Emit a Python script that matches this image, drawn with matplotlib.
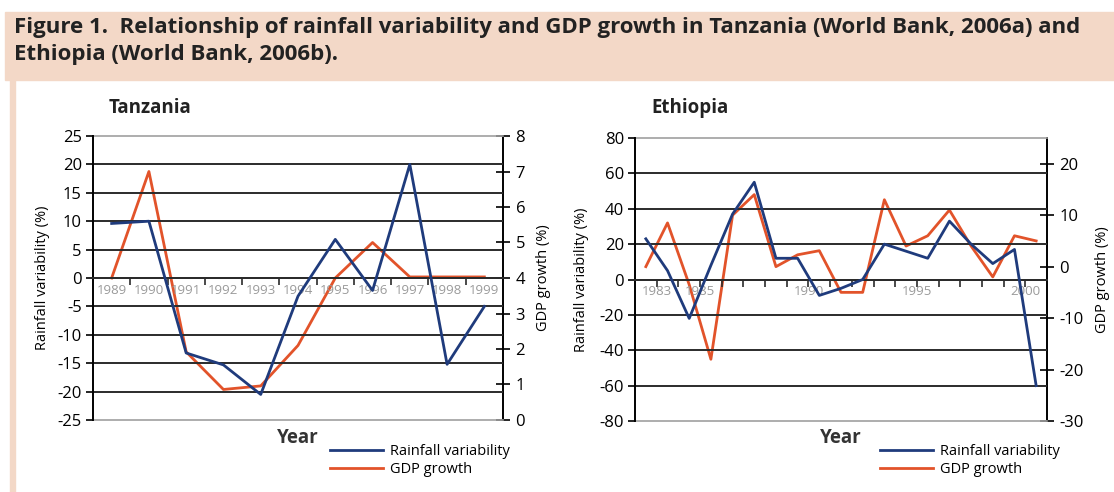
import matplotlib
matplotlib.use("Agg")
import matplotlib.pyplot as plt
from matplotlib import font_manager
from matplotlib.lines import Line2D
from matplotlib.patches import Rectangle

# Tanzania, 1989-1999
tz_years = ["1989", "1990", "1991", "1992", "1993", "1994",
            "1995", "1996", "1997", "1998", "1999"]
tz_rain = [9.6, 10.0, -13.2, -15.3, -20.5, -3.2, 6.8, -2.2, 20.0, -15.2, -5.0]
tz_gdp = [4.0, 7.0, 1.92, 0.86, 0.96, 2.1, 4.0, 5.0, 4.03, 4.03, 4.03]

# Ethiopia, 1982-2000
eth_years = list(range(1982, 2001))
eth_rain = [23, 5, -22, 8, 37, 55, 12, 12, -9, -5, 0, 20, 16, 12, 33, 20, 9, 17, -60]
eth_gdp = [0, 8.5, -3.5, -18, 10, 14, 0, 2.3, 3.1, -5, -5, 13, 4, 6, 11, 4, -2, 6, 5]
eth_shown = [1983, 1985, 1990, 1995, 2000]

BLUE = "#1f3b7c"
ORANGE = "#e2532a"
PINK = "#f3d8c7"
W, H = 1114, 492

installed = {f.name for f in font_manager.fontManager.ttflist}
narrow = next((f for f in ["Liberation Sans Narrow", "Open Sans", "DejaVu Sans"] if f in installed))
plt.rcParams["font.family"] = [narrow, "DejaVu Sans"]
plt.rcParams["axes.unicode_minus"] = False

fig = plt.figure(figsize=(W / 100, H / 100), dpi=100)


def fx(px):
    return px / W


def fy(py):
    return 1 - py / H


# header band and frame strip
fig.patches.append(Rectangle((fx(5), fy(80)), 1, fy(12) - fy(80), transform=fig.transFigure,
                             color=PINK, zorder=0))
fig.patches.append(Rectangle((fx(10), 0), fx(5), fy(80), transform=fig.transFigure,
                             color=PINK, zorder=0))
fig.text(fx(14), fy(17), "Figure 1.  Relationship of rainfall variability and GDP growth in Tanzania "
         "(World Bank, 2006a) and\nEthiopia (World Bank, 2006b).",
         ha="left", va="top", fontsize=16, fontweight="bold", color="#222222", linespacing=1.4)


def panel(box, n, rain, gdp, lims, rlims, lstep, rstep, name, cat_labels, label_pos, ylab_x, leg_x):
    x0, x1, y0, y1 = box
    ax = fig.add_axes([fx(x0), fy(y1), fx(x1 - x0), fy(y0) - fy(y1)])
    ax2 = ax.twinx()
    xs = list(range(n))

    ax.set_xlim(-0.5, n - 0.5)
    ax.set_ylim(*lims)
    ax.set_yticks(range(lims[0], lims[1] + 1, lstep))
    for v in range(lims[0] + lstep, lims[1], lstep):
        ax.axhline(v, color="#2b2b2b", lw=1.4, zorder=1)
    ax.axhline(lims[1], color="#a0a0a0", lw=1.2, zorder=1, clip_on=False)
    ax.axhline(lims[0], color="#a0a0a0", lw=1.2, zorder=1, clip_on=False)

    # category axis sits on the zero line
    ax.spines["bottom"].set_position(("data", 0))
    ax.spines["bottom"].set_color("#2b2b2b")
    ax.spines["bottom"].set_linewidth(1.4)
    ax.xaxis.remove_overlapping_locs = False
    ax.set_xticks([i + 0.5 for i in range(n - 1)])
    ax.set_xticklabels([])
    ax.tick_params(axis="x", direction="out", length=5, width=1.2, color="#2b2b2b")
    ax.set_xticks(label_pos, minor=True)
    ax.set_xticklabels(cat_labels, minor=True)
    ax.tick_params(axis="x", which="minor", length=0, pad=4, labelsize=9.5, labelcolor="#9a9a9a")

    for s in ["top", "right"]:
        ax.spines[s].set_visible(False)
    ax.spines["left"].set_linewidth(1.4)
    ax.tick_params(axis="y", direction="out", length=5, width=1.2, labelsize=12, pad=3)

    ax2.set_ylim(*rlims)
    ax2.set_yticks(range(rlims[0], rlims[1] + 1, rstep))
    ax2.tick_params(axis="y", direction="inout", length=10, width=1.2, labelsize=12, pad=4)
    for s in ["top", "left", "bottom"]:
        ax2.spines[s].set_visible(False)
    ax2.spines["right"].set_linewidth(1.4)

    ax.plot(xs, rain, color=BLUE, lw=2, zorder=3, clip_on=False)
    ax2.plot(xs, gdp, color=ORANGE, lw=2, zorder=3, clip_on=False)
    ax.set_zorder(ax2.get_zorder() + 1)
    ax.patch.set_visible(False)

    ax.set_ylabel("Rainfall variability (%)", fontsize=10.5)
    ax.yaxis.set_label_coords(-(x0 - ylab_x) / (x1 - x0), 0.5)
    ax2.set_ylabel("GDP growth (%)", fontsize=10.5, rotation=90, labelpad=8)

    fig.text(fx(x0 + 16), fy(98), name, ha="left", va="top", fontsize=13.5, fontweight="bold",
             color="#222222")
    fig.text(fx((x0 + x1) / 2), fy(428), "Year", ha="center", va="top", fontsize=13.5,
             fontweight="bold", color="#333333")

    handles = [Line2D([], [], color=BLUE, lw=2), Line2D([], [], color=ORANGE, lw=2)]
    fig.legend(handles, ["Rainfall variability", "GDP growth"], loc="upper left",
               bbox_to_anchor=(fx(leg_x), fy(444)), frameon=False, fontsize=10.5,
               handlelength=3.6, handletextpad=0.5, labelspacing=0.2, borderpad=0,
               borderaxespad=0)
    return ax, ax2


panel((93, 503, 136, 420), len(tz_years), tz_rain, tz_gdp, (-25, 25), (0, 8), 5, 1,
      "Tanzania", tz_years, list(range(len(tz_years))), 50, 330)

eth_pos = [eth_years.index(y) - 0.5 for y in eth_shown]
panel((635, 1047, 138, 421), len(eth_years), eth_rain, eth_gdp, (-80, 80), (-30, 25), 20, 10,
      "Ethiopia", [str(y) for y in eth_shown], eth_pos, 589, 880)

fig.savefig("out.png", dpi=100)
